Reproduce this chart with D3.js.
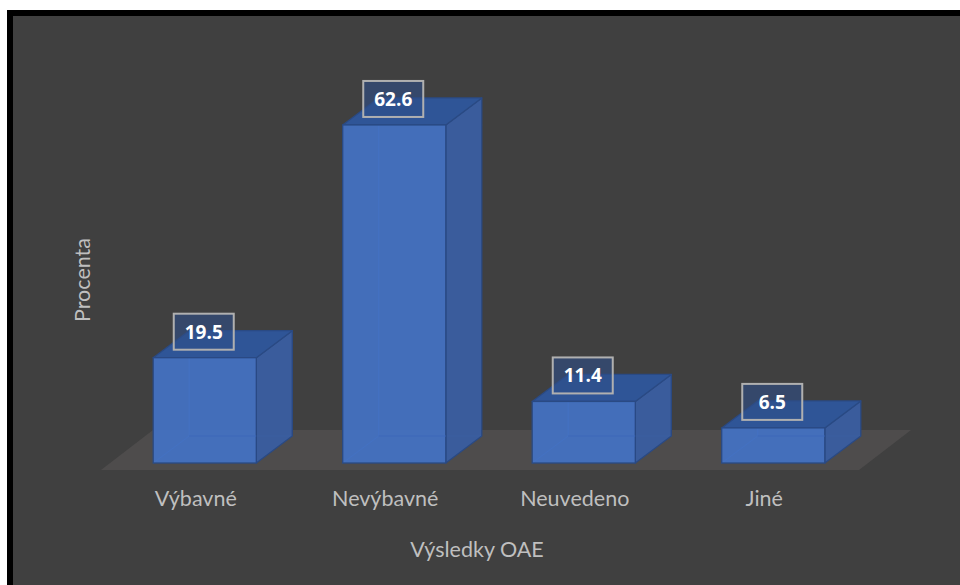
<!DOCTYPE html>
<html><head><meta charset="utf-8">
<script src="https://cdn.jsdelivr.net/npm/d3@7/dist/d3.min.js"></script>
<style>html,body{margin:0;padding:0;background:#fff;}svg{display:block;}</style>
</head><body>
<script>
const categories = ["Výbavné", "Nevýbavné", "Neuvedeno", "Jiné"];
const values = [19.5, 62.6, 11.4, 6.5];
const xTitle = "Výsledky OAE";
const yTitle = "Procenta";
const yMax = 70;

const W = 960, H = 585;
const svg = d3.select("body").append("svg").attr("width", W).attr("height", H);

// frame
svg.append("rect").attr("x", 7).attr("y", 10).attr("width", W - 7).attr("height", H - 10).attr("fill", "#000");
svg.append("rect").attr("x", 13).attr("y", 16).attr("width", W - 13).attr("height", H - 16).attr("fill", "#404040");

const x = d3.scaleBand().domain(categories).range([110, 868]).paddingInner(0.456).paddingOuter(0.228);
const y = d3.scaleLinear().domain([0, yMax]).range([463, 85]);

const DX = 36, DY = -27; // bar depth
const FX = -9, FY = 7;    // floor front offset
const FBX = 52, FBY = -40; // floor depth

// floor
const fx0 = x.range()[0] + FX, fx1 = x.range()[1] + FX, fy = y(0) + FY;
svg.append("path")
  .attr("d", `M${fx0},${fy}L${fx1},${fy}L${fx1 + FBX},${fy + FBY}L${fx0 + FBX},${fy + FBY}Z`)
  .attr("fill", "#4e4c4c");

const g = svg.append("g");
categories.forEach((c, i) => {
  const v = values[i];
  const x0 = x(c), x1 = x(c) + x.bandwidth();
  const yt = y(v), yb = y(0);
  const bg = g.append("g");
  bg.append("path")
    .attr("d", `M${x0 + DX},${yb + DY}L${x0 + DX},${yt + DY}M${x0 + DX},${yb + DY}L${x1 + DX},${yb + DY}M${x0 + DX},${yb + DY}L${x0},${yb}`)
    .attr("stroke", "#3a62ad").attr("stroke-width", 1).attr("fill", "none");
  // side
  bg.append("path")
    .attr("d", `M${x1},${yb}L${x1 + DX},${yb + DY}L${x1 + DX},${yt + DY}L${x1},${yt}Z`)
    .attr("fill", "#3a5d9f").attr("fill-opacity", 0.97)
    .attr("stroke", "#2a4a84").attr("stroke-width", 1.3).attr("stroke-linejoin", "round");
  // top
  bg.append("path")
    .attr("d", `M${x0},${yt}L${x1},${yt}L${x1 + DX},${yt + DY}L${x0 + DX},${yt + DY}Z`)
    .attr("fill", "#2f5597")
    .attr("stroke", "#2a4a84").attr("stroke-width", 1.3).attr("stroke-linejoin", "round");
  // front
  bg.append("rect")
    .attr("x", x0).attr("y", yt).attr("width", x1 - x0).attr("height", yb - yt)
    .attr("fill", "#4472c4").attr("fill-opacity", 0.93)
    .attr("stroke", "#2a4a84").attr("stroke-width", 1.3);
  bg.append("path")
    .attr("d", `M${x0 + DX},${Math.max(yt, yb + DY)}L${x0 + DX},${yb + DY}L${x1},${yb + DY}`)
    .attr("stroke", "#3d67b5").attr("stroke-width", 1).attr("fill", "none");
});

// data labels
categories.forEach((c, i) => {
  const v = values[i];
  const cx = x(c) + x.bandwidth() / 2 - 1;
  const cy = y(v) - 26;
  const bw = 60, bh = 36;
  const lg = svg.append("g");
  lg.append("rect").attr("x", cx - bw / 2).attr("y", cy - bh / 2).attr("width", bw).attr("height", bh)
    .attr("fill", "#2f4f88").attr("fill-opacity", 0.6)
    .attr("stroke", "#b0b0b0").attr("stroke-width", 2);
  lg.append("text").attr("x", cx).attr("y", cy).attr("dy", "0.36em")
    .attr("text-anchor", "middle").attr("fill", "#fff")
    .attr("font-family", "'Open Sans', sans-serif").attr("font-weight", 700).attr("font-size", 19)
    .text(v.toFixed(1));
});

// category labels
const axisG = svg.append("g");
categories.forEach((c) => {
  axisG.append("text")
    .attr("x", x(c) + x.bandwidth() / 2 + FX).attr("y", 506)
    .attr("text-anchor", "middle").attr("fill", "#bfbfbf")
    .attr("font-family", "Lato, sans-serif").attr("font-size", 21.5)
    .text(c);
});

svg.append("text").attr("x", 477).attr("y", 557).attr("text-anchor", "middle")
  .attr("fill", "#bfbfbf").attr("font-family", "Lato, sans-serif").attr("font-size", 21.5).text(xTitle);

svg.append("text").attr("transform", "translate(90,280) rotate(-90)").attr("text-anchor", "middle")
  .attr("fill", "#bfbfbf").attr("font-family", "Lato, sans-serif").attr("font-size", 21.5).text(yTitle);
</script>
</body></html>
